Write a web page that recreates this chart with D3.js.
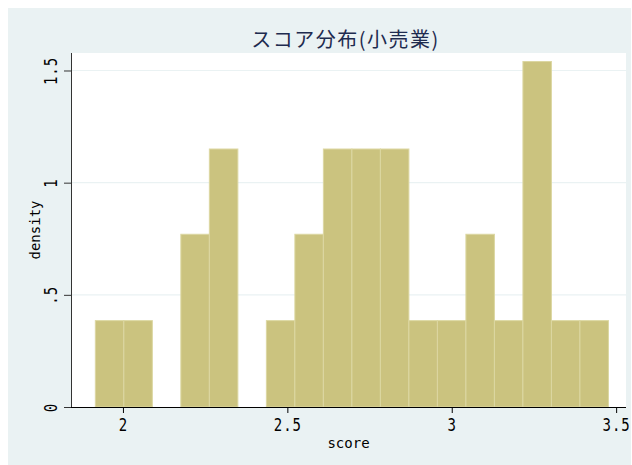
<!DOCTYPE html>
<html>
<head>
<meta charset="utf-8">
<script src="https://cdn.jsdelivr.net/npm/d3@7"></script>
<style>
  body { margin: 0; background: #fff; }
  text { font-family: "DejaVu Sans Mono", monospace; }
</style>
</head>
<body>
<div id="chart"></div>
<script>
const WIDTH = 632, HEIGHT = 465;

// histogram bins (score), bar height = density
const binStart = 1.916;
const binWidth = 0.0867;
const densities = [0.385, 0.385, 0, 0.77, 1.15, 0, 0.385, 0.77, 1.15, 1.15,
                   1.15, 0.385, 0.385, 0.77, 0.385, 1.54, 0.385, 0.385];
const xTicks = [2, 2.5, 3, 3.5];
const xTickLabels = ["2", "2.5", "3", "3.5"];
const yTicks = [0, 0.5, 1, 1.5];
const yTickLabels = ["0", ".5", "1", "1.5"];

const bins = densities.map((d, i) => ({x0: binStart + i * binWidth, x1: binStart + (i + 1) * binWidth, density: d}));

const LEFT = 71, RIGHT = 626, TOP = 53, BOTTOM = 407;

const svg = d3.select("#chart").append("svg").attr("width", WIDTH).attr("height", HEIGHT)

// outer graph region
svg.append("rect").attr("x", 8).attr("y", 8).attr("width", WIDTH - 9).attr("height", HEIGHT - 8).attr("fill", "#eaf2f3")
// plot region
svg.append("rect").attr("x", LEFT).attr("y", TOP).attr("width", RIGHT - LEFT).attr("height", BOTTOM - TOP).attr("fill", "#fff")

const x = d3.scaleLinear().domain([1.842, 3.530]).range([LEFT, RIGHT])
const y = d3.scaleLinear().domain([0, 1.578]).range([BOTTOM, TOP])

// grid lines
svg.append("g").selectAll("line").data(yTicks.slice(1)).enter().append("line")
  .attr("x1", LEFT).attr("x2", RIGHT).attr("y1", d => y(d)).attr("y2", d => y(d))
  .attr("stroke", "#eaf2f3").attr("stroke-width", 1.2)

// bars
svg.append("g").selectAll("rect").data(bins.filter(b => b.density > 0)).enter().append("rect")
  .attr("x", d => x(d.x0)).attr("y", d => y(d.density))
  .attr("width", d => x(d.x1) - x(d.x0)).attr("height", d => y(0) - y(d.density))
  .attr("fill", "#cbc37f").attr("stroke", "#dcd7a2").attr("stroke-width", 1)

// x axis
const gen_x = d3.axisBottom(x).tickValues(xTicks).tickSize(6).tickFormat((d, i) => xTickLabels[i])
const xg = svg.append("g").attr("transform", "translate(0," + BOTTOM + ")").call(gen_x)
xg.select(".domain").attr("d", "M" + (LEFT - 7) + ",0.5H" + RIGHT).attr("stroke", "#000")
xg.selectAll(".tick line").attr("stroke", "#000")
xg.selectAll(".tick text").attr("y", 0).attr("dy", 0).attr("transform", "translate(0,24) scale(1,1.25)")
  .attr("font-size", 14).attr("fill", "#000")
  .style("font-family", "'DejaVu Sans Mono', monospace").attr("letter-spacing", 1)

// y axis
const gen_y = d3.axisLeft(y).tickValues(yTicks).tickSize(7).tickFormat((d, i) => yTickLabels[i])
const yg = svg.append("g").attr("transform", "translate(" + LEFT + ",0)").call(gen_y)
yg.select(".domain").attr("d", "M0.5," + TOP + "V" + BOTTOM).attr("stroke", "#333")
yg.selectAll(".tick line").attr("stroke", "#333")
yg.selectAll(".tick text").attr("transform", "translate(-14,0) rotate(-90) scale(1,1.25)").attr("x", 0).attr("y", 0)
  .attr("text-anchor", "middle").attr("dy", 0).attr("font-size", 14).attr("fill", "#000")
  .style("font-family", "'DejaVu Sans Mono', monospace").attr("letter-spacing", 1)

// axis titles
svg.append("text").attr("x", (LEFT + RIGHT) / 2).attr("y", 448).attr("text-anchor", "middle")
  .attr("font-size", 14).attr("fill", "#000").text("score")
svg.append("text").attr("transform", "translate(40," + ((TOP + BOTTOM) / 2) + ") rotate(-90)")
  .attr("text-anchor", "middle").attr("font-size", 14).attr("fill", "#000").text("density")

// title
svg.append("text").attr("x", (LEFT + RIGHT) / 2 - 3).attr("y", 47).attr("text-anchor", "middle")
  .style("font-family", "'Noto Sans CJK JP', sans-serif").attr("font-size", 20).attr("letter-spacing", 1.5)
  .attr("fill", "#1e2b4f").text("スコア分布(小売業)")
</script>
</body>
</html>
